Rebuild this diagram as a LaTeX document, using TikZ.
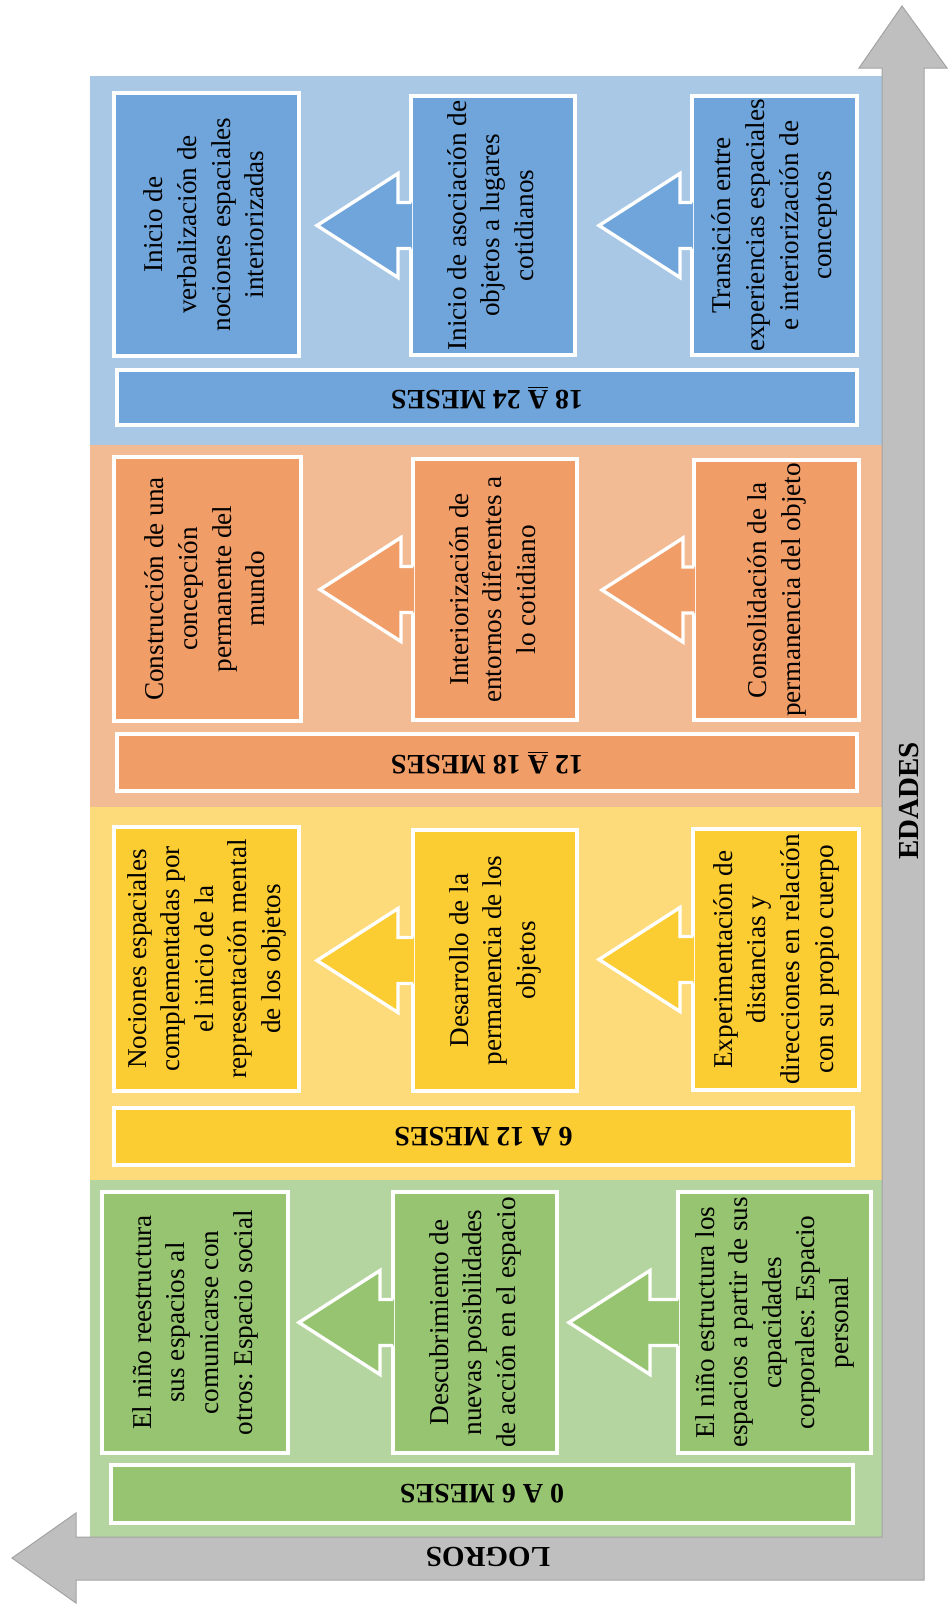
\documentclass[tikz,border=0pt]{standalone}
\usepackage{fontspec}
\setmainfont{Liberation Serif}
\usepackage{graphicx}
\usetikzlibrary{positioning}
\usetikzlibrary{calc}
\frenchspacing

\definecolor{azulc}{HTML}{A8C8E6}
\definecolor{azul}{HTML}{6FA5DA}
\definecolor{naranjac}{HTML}{F3BB94}
\definecolor{naranja}{HTML}{F19D67}
\definecolor{amarilloc}{HTML}{FDDB7A}
\definecolor{amarillo}{HTML}{FCCC33}
\definecolor{verdec}{HTML}{B5D5A0}
\definecolor{verde}{HTML}{96C470}
\definecolor{gris}{HTML}{BFBFBF}
\definecolor{grisb}{HTML}{A3A3A3}

\newlength{\pix}\setlength{\pix}{0.5pt}

\newcommand{\vtexto}[1]{\rotatebox{90}{\begin{tabular}{@{}c@{}}#1\end{tabular}}}

%flecha de bloque: #1 color, #2 caja izq, #3 caja der, #4 separacion de la punta
\newcommand{\flecha}[4]{%
  \coordinate (pta) at ($(#2.east |- #3.west)+(#4,0)$);
  \coordinate (bse) at ($(pta)+(81,0)$);
  \fill[#1] (pta) -- ($(bse)+(0,-52)$) -- ($(bse)+(0,-23)$) -- ($(#3.west)+(3,-23)$)
    -- ($(#3.west)+(3,23)$) -- ($(bse)+(0,23)$) -- ($(bse)+(0,52)$) -- cycle;
  \draw[borde] ($(#3.west)+(2,-23)$) -- ($(bse)+(0,-23)$) -- ($(bse)+(0,-52)$)
    -- (pta) -- ($(bse)+(0,52)$) -- ($(bse)+(0,23)$) -- ($(#3.west)+(2,23)$);
}

\tikzset{
  logro/.style={draw=white, line width=2pt, fill=#1, inner sep=0pt,
    font=\fontsize{13.6pt}{16.8pt}\selectfont},
  edad/.style={draw=white, line width=2pt, fill=#1, inner sep=0pt, rotate=180,
    font=\bfseries\fontsize{14pt}{16pt}\selectfont},
  borde/.style={white, line width=1.7pt},
  eje/.style={inner sep=0pt, font=\bfseries\fontsize{14.5pt}{17pt}\selectfont}
}

\begin{document}
\begin{tikzpicture}[x=0.5pt, y=-0.5pt]
\useasboundingbox (0,0) rectangle (948,1606);

%bandas
\fill[azulc]     (90,76)   rectangle (882,445);
\fill[naranjac]  (90,445)  rectangle (882,807);
\fill[amarilloc] (90,807)  rectangle (882,1180);
\fill[verdec]    (90,1180) rectangle (882,1537);

%ejes
\filldraw[fill=gris, draw=grisb, line width=0.5pt] (902,6) -- (947,68) -- (924,68) -- (924,1580)
  -- (76,1580) -- (76,1603) -- (12,1558) -- (76,1513) -- (76,1537) -- (882,1537)
  -- (882,68) -- (859,68) -- cycle;
\node[eje, rotate=90]  (edades) at (909,801)  {EDADES};
\node[eje, rotate=180] (logros) at (488,1557) {LOGROS};

%18 a 24 meses
\node[logro=azul, minimum width=185\pix, minimum height=263\pix] (b1) at (206.5,224.5)
  {\vtexto{Inicio de\\verbalización de\\nociones espaciales\\interiorizadas}};
\node[logro=azul, minimum width=164\pix, minimum height=259\pix] (b2) at (493,225.5)
  {\vtexto{Inicio de asociación de\\objetos a lugares\\cotidianos}};
\node[logro=azul, minimum width=165\pix, minimum height=259\pix] (b3) at (774.5,225.5)
  {\vtexto{Transición entre\\experiencias espaciales\\e interiorización de\\conceptos}};
\node[edad=azul, minimum width=740\pix, minimum height=55\pix] (lb) at (487,397.5)
  {18 \underline{A} 24 MESES};
\flecha{azul}{b1}{b2}{16}
\flecha{azul}{b2}{b3}{22}

%12 a 18 meses
\node[logro=naranja, minimum width=187\pix, minimum height=264\pix] (o1) at (207.5,589)
  {\vtexto{Construcción de una\\concepción\\permanente del\\mundo}};
\node[logro=naranja, minimum width=164\pix, minimum height=261\pix] (o2) at (495,589.5)
  {\vtexto{Interiorización de\\entornos diferentes a\\lo cotidiano}};
\node[logro=naranja, minimum width=165\pix, minimum height=260\pix] (o3) at (776.5,590)
  {\vtexto{Consolidación de la\\permanencia del objeto}};
\node[edad=naranja, minimum width=740\pix, minimum height=57\pix] (lo) at (487,762.5)
  {12 \underline{A} 18 MESES};
\flecha{naranja}{o1}{o2}{17}
\flecha{naranja}{o2}{o3}{23}

%6 a 12 meses
\node[logro=amarillo, minimum width=185\pix, minimum height=264\pix] (y1) at (206.5,959)
  {\vtexto{Nociones espaciales\\complementadas por\\el inicio de la\\representación mental\\de los objetos}};
\node[logro=amarillo, minimum width=164\pix, minimum height=261\pix] (y2) at (495,960.5)
  {\vtexto{Desarrollo de la\\permanencia de los\\objetos}};
\node[logro=amarillo, minimum width=166\pix, minimum height=261\pix] (y3) at (776,959.5)
  {\vtexto{Experimentación de\\distancias y\\direcciones en relación\\con su propio cuerpo}};
\node[edad=amarillo, minimum width=739\pix, minimum height=57\pix] (ly) at (483.5,1136.5)
  {6 A 12 MESES};
\flecha{amarillo}{y1}{y2}{16}
\flecha{amarillo}{y2}{y3}{20}

%0 a 6 meses
\node[logro=verde, minimum width=186\pix, minimum height=261\pix] (g1) at (195,1322.5)
  {\vtexto{El niño reestructura\\sus espacios al\\comunicarse con\\otros: Espacio social}};
\node[logro=verde, minimum width=164\pix, minimum height=261\pix] (g2) at (475,1322.5)
  {\vtexto{Descubrimiento de\\nuevas posibilidades\\de acción en el espacio}};
\node[logro=verde, minimum width=193\pix, minimum height=261\pix] (g3) at (774.5,1322.5)
  {\vtexto{El niño estructura los\\espacios a partir de sus\\capacidades\\corporales: Espacio\\personal}};
\node[edad=verde, minimum width=742\pix, minimum height=58\pix] (lg) at (482,1494)
  {0 A 6 MESES};
\flecha{verde}{g1}{g2}{9}
\flecha{verde}{g2}{g3}{10}
\end{tikzpicture}
\end{document}
